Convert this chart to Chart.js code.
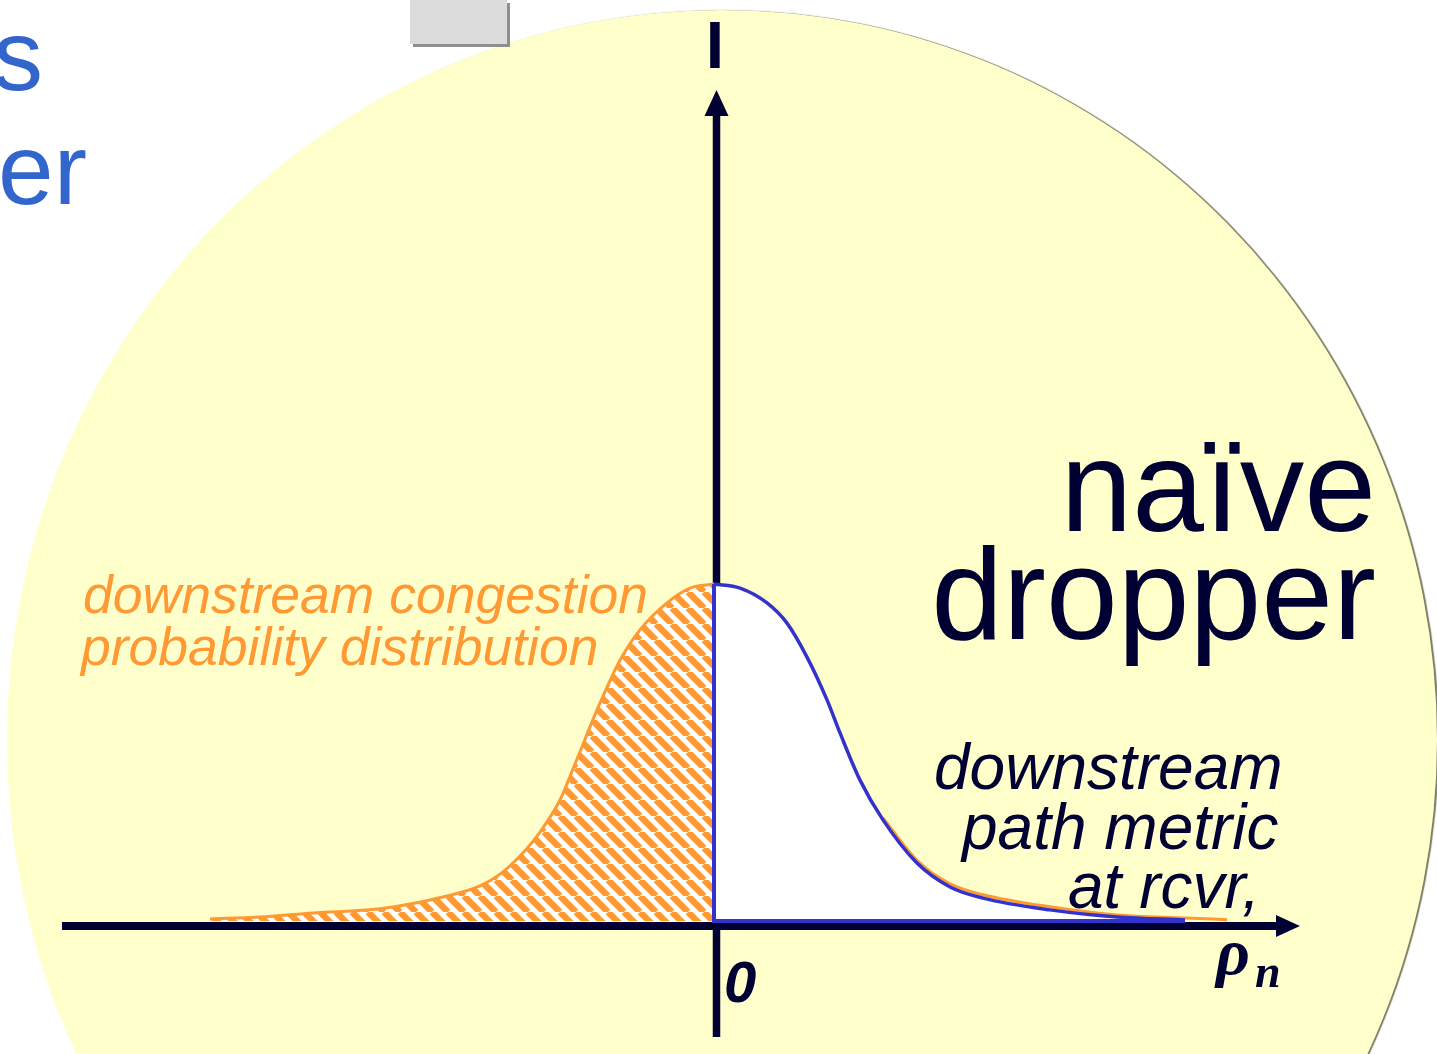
<!DOCTYPE html>
<html>
<head>
<meta charset="utf-8">
<script src="https://cdn.jsdelivr.net/npm/chart.js@4.4.0/dist/chart.umd.min.js"></script>
<style>
  html, body { margin: 0; padding: 0; background: #fff; }
  #wrap { width: 1437px; height: 1054px; }
</style>
</head>
<body>
<div id="wrap"><canvas id="curveChart" width="1437" height="1054"></canvas></div>
<script>
// congestion distribution
// rho in arbitrary units (0 = origin), density scaled so the peak is 1
const rhoLeft  = [-5.04, -4.54, -4.01, -3.34, -2.67, -2.34, -2.14, -1.94, -1.74, -1.54, -1.39, -1.14, -0.94, -0.74, -0.47, -0.24, 0];
const densLeft = [0.006, 0.012, 0.024, 0.036, 0.074, 0.104, 0.139, 0.193, 0.264, 0.359, 0.466, 0.647, 0.774, 0.864, 0.944, 0.988, 1.0];

const rhoRight  = [0, 0.26, 0.53, 0.73, 0.93, 1.13, 1.26, 1.46, 1.69, 2.03, 2.36, 2.69, 3.36, 4.03, 4.71];
const densRight = [1.0, 0.988, 0.944, 0.884, 0.783, 0.656, 0.558, 0.418, 0.300, 0.172, 0.101, 0.068, 0.033, 0.012, 0.003];

// the orange curve shows a little above the blue one in the tail
const rhoTail  = [1.69, 2.03, 2.36, 2.69, 3.36, 4.03, 4.71, 5.13];
const densTail = [0.306, 0.180, 0.110, 0.078, 0.042, 0.018, 0.009, 0.004];

// visible ranges and axis extents (same units)
const rhoRange  = [-7.14, 7.23];
const densRange = [-0.3947, 2.733];
const axisRho   = [-6.52, 5.86];
const axisDens  = [-0.344, 2.466];

const curveLabel  = ["downstream congestion", "probability distribution"];
const metricLabel = ["downstream", "path metric", "at rcvr,"];
const policyLabel = ["naïve", "dropper"];
const sideText    = ["s", "er"];

const ORANGE = "#ff9933";
const NAVY = "#000033";
const BLUE = "#3333cc";

function makeHatch() {
    const p = 16;
    const c = document.createElement("canvas");
    c.width = p; c.height = p;
    const g = c.getContext("2d");
    g.fillStyle = "#ffffff";
    g.fillRect(0, 0, p, p);
    g.strokeStyle = ORANGE;
    g.lineWidth = 6.5;
    for (let k = -1; k <= 1; k++) {
        g.beginPath();
        g.moveTo(k * p, 0);
        g.lineTo(k * p + p, p);
        g.stroke();
    }
    return g.createPattern(c, "repeat");
}

const toPoints = (xs, ys) => xs.map((x, i) => ({ x: x, y: ys[i] }));

const slide = {
    id: "slide",
    beforeDraw(chart) {
        const ctx = chart.ctx;
        ctx.save();
        ctx.fillStyle = "#ffffff";
        ctx.fillRect(0, 0, chart.width, chart.height);

        // pale yellow disc behind the plot
        ctx.shadowColor = "rgba(110,110,80,0.9)";
        ctx.shadowOffsetX = 2;
        ctx.shadowBlur = 1;
        ctx.beginPath();
        ctx.ellipse(722, 740, 715, 730, 0, 0, Math.PI * 2);
        ctx.fillStyle = "#ffffcc";
        ctx.fill();
        ctx.shadowColor = "transparent";

        // grey button at the top
        ctx.fillStyle = "#8f8f8f";
        ctx.fillRect(413, 3, 97, 44);
        ctx.fillStyle = "#dcdcdc";
        ctx.fillRect(410, 0, 97, 44);

        // slide title remnants on the left
        ctx.fillStyle = "#3366cc";
        ctx.font = "100px 'Liberation Sans'";
        ctx.textAlign = "right";
        ctx.fillText(sideText[0], 43, 90);
        ctx.fillText(sideText[1], 87, 204);
        ctx.restore();
    },
    beforeDatasetsDraw(chart) {
        const ctx = chart.ctx;
        const xs = chart.scales.x, ys = chart.scales.y;
        const x0 = xs.getPixelForValue(0) + 2.5;
        const y0 = ys.getPixelForValue(0) + 5;
        ctx.save();
        ctx.strokeStyle = NAVY;
        ctx.fillStyle = NAVY;

        // horizontal axis with arrow
        const xl = xs.getPixelForValue(axisRho[0]);
        const xr = xs.getPixelForValue(axisRho[1]);
        ctx.lineWidth = 8;
        ctx.beginPath();
        ctx.moveTo(xl, y0);
        ctx.lineTo(xr - 20, y0);
        ctx.stroke();
        ctx.beginPath();
        ctx.moveTo(xr, y0);
        ctx.lineTo(xr - 24, y0 - 11);
        ctx.lineTo(xr - 24, y0 + 11);
        ctx.closePath();
        ctx.fill();

        // vertical axis with arrow
        const yt = ys.getPixelForValue(axisDens[1]);
        const yb = ys.getPixelForValue(axisDens[0]);
        ctx.lineWidth = 7.5;
        ctx.beginPath();
        ctx.moveTo(x0, yb);
        ctx.lineTo(x0, yt + 20);
        ctx.stroke();
        ctx.beginPath();
        ctx.moveTo(x0, yt);
        ctx.lineTo(x0 - 12, yt + 26);
        ctx.lineTo(x0 + 12, yt + 26);
        ctx.closePath();
        ctx.fill();
        ctx.restore();
    },
    afterDraw(chart) {
        const ctx = chart.ctx;
        ctx.save();
        ctx.textAlign = "left";

        ctx.fillStyle = ORANGE;
        ctx.font = "italic 53.5px 'Liberation Sans'";
        ctx.fillText(curveLabel[0], 83, 613);
        ctx.fillText(curveLabel[1], 81, 665);

        ctx.fillStyle = NAVY;
        ctx.font = "italic 64px 'Liberation Sans'";
        ctx.fillText(metricLabel[0], 934, 789);
        ctx.fillText(metricLabel[1], 962, 849);
        ctx.fillText(metricLabel[2], 1068, 908);

        ctx.font = "129px 'Liberation Sans'";
        ctx.textAlign = "right";
        ctx.fillText(policyLabel[0], 1376, 531);
        ctx.fillText(policyLabel[1], 1376, 639);

        ctx.textAlign = "center";
        ctx.font = "bold 66px 'Liberation Sans'";
        ctx.fillText("I", 715, 68);

        ctx.textAlign = "left";
        ctx.font = "bold italic 58px 'Liberation Sans'";
        ctx.fillText("0", 724, 1002);
        ctx.font = "bold italic 66px 'Liberation Serif'";
        ctx.fillText("ρ", 1216, 974);
        ctx.font = "bold italic 46px 'Liberation Serif'";
        ctx.fillText("n", 1255, 987);
        ctx.restore();
    }
};

const ctx = document.getElementById("curveChart").getContext("2d");
new Chart(ctx, {
    type: "line",
    data: {
        datasets: [
            {
                label: "edge",
                data: [
                    { x: rhoRight[0], y: densRight[0] },
                    { x: rhoRight[0], y: 0 },
                    { x: rhoRight[rhoRight.length - 1], y: 0 }
                ],
                borderColor: BLUE,
                borderWidth: 4,
                tension: 0,
                fill: false,
                pointRadius: 0,
                order: 1
            },
            {
                label: "passed",
                data: toPoints(rhoRight, densRight),
                borderColor: BLUE,
                borderWidth: 3.5,
                backgroundColor: "#ffffff",
                fill: "origin",
                cubicInterpolationMode: "monotone",
                pointRadius: 0,
                order: 2
            },
            {
                label: "dropped",
                data: toPoints(rhoLeft, densLeft),
                borderColor: ORANGE,
                borderWidth: 3,
                backgroundColor: makeHatch(),
                fill: "origin",
                cubicInterpolationMode: "monotone",
                pointRadius: 0,
                order: 3
            },
            {
                label: "tail",
                data: toPoints(rhoTail, densTail),
                borderColor: ORANGE,
                borderWidth: 3,
                fill: false,
                cubicInterpolationMode: "monotone",
                pointRadius: 0,
                order: 4
            }
        ]
    },
    options: {
        responsive: false,
        animation: false,
        devicePixelRatio: 1,
        layout: { padding: 0 },
        scales: {
            x: { type: "linear", min: rhoRange[0], max: rhoRange[1], display: false },
            y: { type: "linear", min: densRange[0], max: densRange[1], display: false }
        },
        plugins: {
            legend: { display: false },
            tooltip: { enabled: false }
        }
    },
    plugins: [slide]
});
</script>
</body>
</html>
